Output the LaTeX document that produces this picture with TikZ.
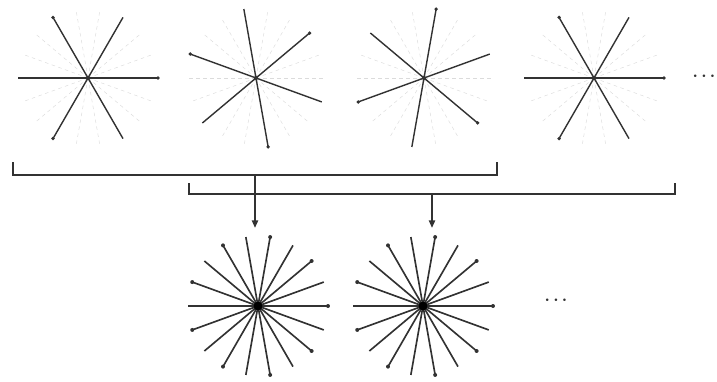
\documentclass[tikz,border=0pt]{standalone}
\usepackage{tikz}
\usetikzlibrary{arrows.meta, positioning, calc}
\definecolor{spokegray}{RGB}{50,50,50}

\begin{document}
\begin{tikzpicture}[x=0.03cm, y=0.03cm,
  disc/.style={circle, minimum size=4.2cm, inner sep=0pt},
  guide/.style={black!14, dashed, line width=0.4pt},
  spoke/.style={spokegray, line width=1.2pt},
  fullspoke/.style={spokegray, line width=1.4pt},
  brk/.style={spokegray, line width=1pt},
  ar/.style={-{Triangle[length=2.2mm, width=1.9mm]}, spokegray,
    line width=1pt, shorten >=0.24cm},
  etc/.style={font=\Large\boldmath, text=spokegray}
]
  \useasboundingbox (0,0) rectangle (717,381);
  % single projection sets
  \node[disc] (p1) at (88,303)  {};
  \node[disc] (p2) at (256,303) {};
  \node[disc] (p3) at (424,303) {};
  \node[disc] (p4) at (594,303) {};
  \node[etc] (more1) at (704,304) {$\cdots$};
  % combined sets
  \node[disc] (s1) at (258,75) {};
  \node[disc] (s2) at (423,75) {};
  \node[etc] (more2) at (556,80) {$\cdots$};

  \foreach \n in {p1,p2,p3,p4,s1,s2}
    \foreach \a in {0,20,...,340}
      \draw[guide] (\n.center) -- ++(\a:70);

  \foreach \n/\r in {p1/0, p2/40, p3/80, p4/120} {
    \foreach \a in {0,120,240} {
      \draw[spoke] (\n.center) ++(\a+\r:70) -- ++(\a+\r+180:140);
      \fill[spokegray] (\n.center) ++(\a+\r:70) circle (1.6pt);
    }
    \fill[spokegray] (\n.center) circle (1.7pt);
  }

  \foreach \n in {s1,s2} {
    \foreach \a in {0,20,...,340}
      \draw[fullspoke] (\n.center) -- ++(\a:70);
    \foreach \a in {0,40,...,320}
      \fill[spokegray] (\n.center) ++(\a:70) circle (1.7pt);
    \fill[black] (\n.center) circle (3.8pt);
  }

  % Brackets
  \coordinate (b1l) at (13,206);
  \coordinate (b1r) at (497,206);
  \coordinate (b2l) at (189,187);
  \coordinate (b2r) at (675,187);
  \coordinate (b1m) at ($(b1l)!0.5!(b1r)$);
  \coordinate (b2m) at ($(b2l)!0.5!(b2r)$);
  \draw[brk] ($(b1l)+(0,13)$) -- (b1l) -- (b1r) -- ++(0,13);
  \draw[brk] ($(b2l)+(0,11)$) -- (b2l) -- (b2r) -- ++(0,11);
  % Arrows
  \draw[ar] (b1m) -- (b1m |- s1.north);
  \draw[ar] (b2m) -- (b2m |- s2.north);
\end{tikzpicture}
\end{document}
